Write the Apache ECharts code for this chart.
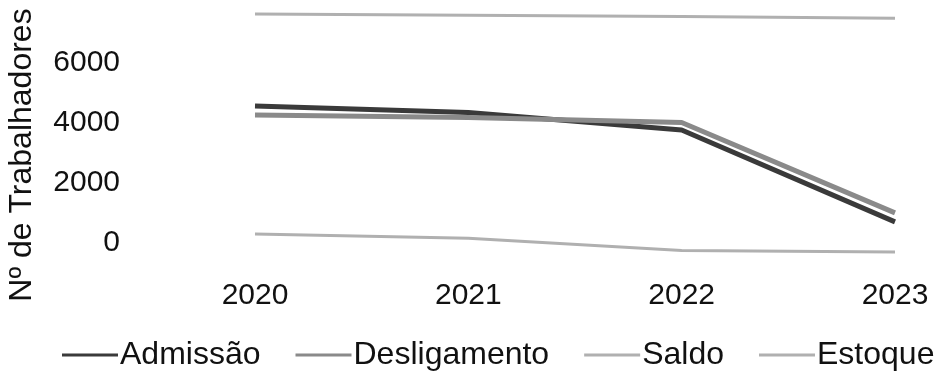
<!DOCTYPE html>
<html>
<head>
<meta charset="utf-8">
<script src="https://cdn.jsdelivr.net/npm/echarts@6/dist/echarts.min.js"></script>
<style>
  html, body { margin: 0; padding: 0; background: #fff; }
  #chart { width: 944px; height: 374px; }
</style>
</head>
<body>
<div id="chart"></div>
<script>
// dados
const anos = ["2020", "2021", "2022", "2023"];
const admissao = [4550, 4330, 3750, 700];
const desligamento = [4250, 4170, 4000, 1000];
const saldo = [300, 160, -250, -300];
const estoque = [7600, 7560, 7520, 7460];

const font = "Liberation Sans, Arial, sans-serif";
const chart = echarts.init(document.getElementById("chart"));

function serie(name, data, color, width) {
  return {
    name,
    type: "line",
    data,
    symbol: "none",
    clip: false,
    lineStyle: { color, width },
    itemStyle: { color },
  };
}

chart.setOption({
  animation: false,
  grid: { left: 255, right: 49, top: 2, bottom: 131 },
  xAxis: {
    type: "category",
    data: anos,
    boundaryGap: false,
    axisLine: { show: false },
    axisTick: { show: false },
    axisLabel: { color: "#111", fontSize: 30, fontFamily: font, margin: 38 },
  },
  yAxis: {
    type: "value",
    min: 0,
    max: 8000,
    interval: 2000,
    splitLine: { show: false },
    axisLine: { show: false },
    axisLabel: {
      color: "#111",
      fontSize: 30,
      fontFamily: font,
      margin: 135,
      showMaxLabel: false,
      formatter: (v) => String(v),
    },
  },
  legend: {
    left: 62,
    top: 339,
    width: 882,
    padding: 0,
    icon: "rect",
    itemWidth: 56,
    itemHeight: 3,
    itemGap: 35,
    textStyle: { color: "#111", fontSize: 32, fontFamily: font, padding: [0, 0, 0, -3] },
    data: ["Admissão", "Desligamento", "Saldo", "Estoque"],
  },
  graphic: [
    {
      type: "text",
      x: 22,
      y: 155,
      rotation: Math.PI / 2,
      style: {
        text: "Nº de Trabalhadores",
        font: "32px " + font,
        fill: "#111",
        textAlign: "center",
        textVerticalAlign: "middle",
      },
    },
  ],
  series: [
    serie("Admissão", admissao, "#3a3a3a", 5),
    serie("Desligamento", desligamento, "#8a8a8a", 5),
    serie("Saldo", saldo, "#b0b0b0", 3),
    serie("Estoque", estoque, "#b0b0b0", 3),
  ],
});
</script>
</body>
</html>
